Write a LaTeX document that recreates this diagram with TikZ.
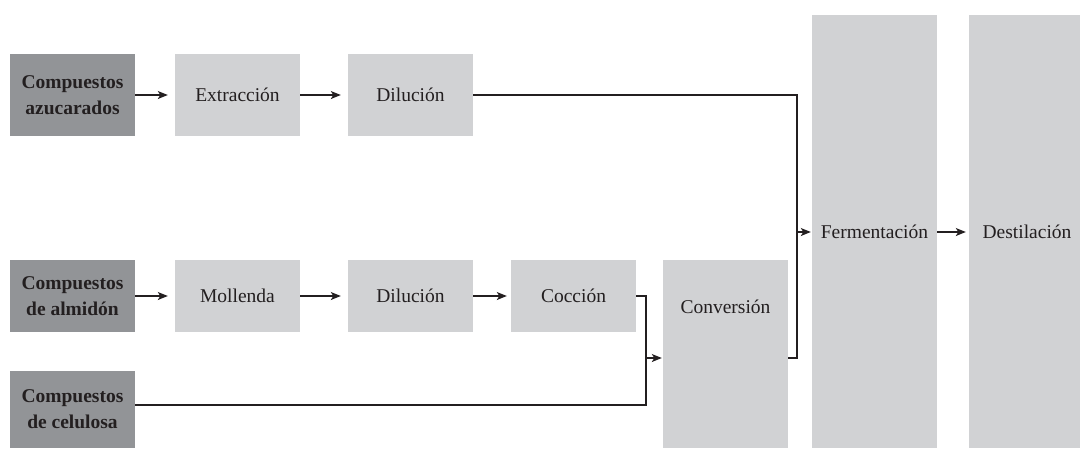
\documentclass[tikz,border=0pt]{standalone}
\usepackage{fontspec}
\setmainfont{Liberation Serif}
\usetikzlibrary{arrows.meta,calc}
\definecolor{darkbox}{HTML}{929497}
\definecolor{lightbox}{HTML}{D1D2D4}
\definecolor{ink}{HTML}{231F20}
\tikzset{
  base/.style={rectangle, draw=none, inner sep=0pt, minimum width=125pt, align=center, text=ink,
    font=\fontsize{19.5}{26}\selectfont},
  srcbox/.style={base, fill=darkbox, font=\fontsize{19.5}{26}\selectfont\bfseries},
  procbox/.style={base, fill=lightbox},
  flow/.style={draw=ink, line width=1.1pt, -{Stealth[length=10pt,width=8pt,inset=2.5pt]}},
  link/.style={draw=ink, line width=1.1pt}
}
\begin{document}
\begin{tikzpicture}[x=1pt,y=-1pt]
\useasboundingbox (0,0) rectangle (1080,448);
% row 1
\node[srcbox, minimum height=82pt] (c1) at (72.5,95) {Compuestos\\azucarados};
\node[procbox, minimum height=82pt] (extr) at (237.5,95) {Extracción};
\node[procbox, minimum height=82pt] (dil1) at (410.5,95) {Dilución};
% row 2
\node[srcbox, minimum height=72pt] (c2) at (72.5,296) {Compuestos\\de almidón};
\node[procbox, minimum height=72pt] (mol) at (237.5,296) {Mollenda};
\node[procbox, minimum height=72pt] (dil2) at (410.5,296) {Dilución};
\node[procbox, minimum height=72pt] (coc) at (573.5,296) {Cocción};
% row 3
\node[srcbox, minimum height=77pt] (c3) at (72.5,409.5) {Compuestos\\de celulosa};
% conversion
\node[procbox, text height=53pt, text depth=135pt, anchor=north] (conv) at (725.5,260) {Conversión};
% tall boxes
\node[procbox, minimum height=433pt] (ferm) at (874.5,231.5) {Fermentación};
\node[procbox, minimum width=111pt, minimum height=433pt] (dest) at (1024.5,231.5) {\hspace*{5pt}Destilación};
% junctions
\coordinate (m) at (646,358);
\coordinate (j) at (797,232);
% connectors
\draw[flow, shorten >=7pt] (c1.east) -- (extr.west);
\draw[flow, shorten >=7pt] (extr.east) -- (dil1.west);
\draw[flow, shorten >=7pt] (c2.east) -- (mol.west);
\draw[flow, shorten >=7pt] (mol.east) -- (dil2.west);
\draw[flow, shorten >=4pt] (dil2.east) -- (coc.west);
\draw[link] (dil1.east) -| (j);
\draw[flow, shorten >=1pt] (j) -- (ferm.west |- j);
\draw[link] (coc.east) -| (m);
\draw[link] ([yshift=4.5pt]c3.east) -| (m);
\draw[flow, shorten >=1pt] (m) -- (m -| conv.west);
\draw[link] (m -| conv.east) -| (j);
\draw[flow, shorten >=3pt] (ferm.east |- j) -- (dest.west |- j);
\end{tikzpicture}
\end{document}
